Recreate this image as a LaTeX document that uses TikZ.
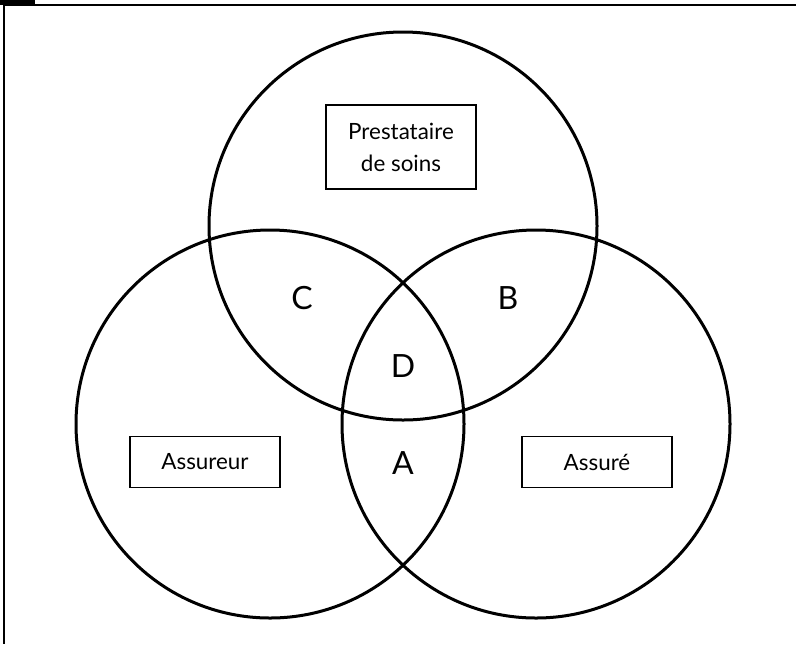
\documentclass[tikz,border=0pt]{standalone}
\usepackage{fontspec}
\setmainfont{Lato}
\usepackage{tikz}
\begin{document}
\begin{tikzpicture}[x=0.5pt, y=-0.5pt,
  set/.style = {circle, draw, line width=1.5pt, minimum size=194pt, inner sep=0pt},
  role/.style = {draw, line width=0.7pt, minimum width=75pt, align=center, font=\fontsize{11.2}{16}\selectfont},
  zone/.style = {font=\fontsize{16}{18}\selectfont}]

\useasboundingbox (0,0) rectangle (796,644);

\fill (0,0) rectangle (35,5);
\coordinate (tl) at (4,5);
\coordinate (tr) at (796,5);
\coordinate (bl) at (4,644);
\draw [line width=1pt] (tr) -- (tl) -- (bl);

\node (soins) at (403,226) [set]{};
\node (assureur) at (270,424) [set]{};
\node (assure) at (536,424) [set]{};

\node (p) at (401,147) [role, minimum height=42pt]{Prestataire\\de soins};
\node (r) at (205,462) [role, minimum height=25.5pt]{Assureur};
\node (e) at (597,462) [role, minimum height=25.5pt]{Assuré};

\node (C) at (302,298) [zone]{C};
\node (B) at (508,298) [zone]{B};
\node (D) at (403,366) [zone]{D};
\node (A) at (403,463) [zone]{A};

\end{tikzpicture}
\end{document}
